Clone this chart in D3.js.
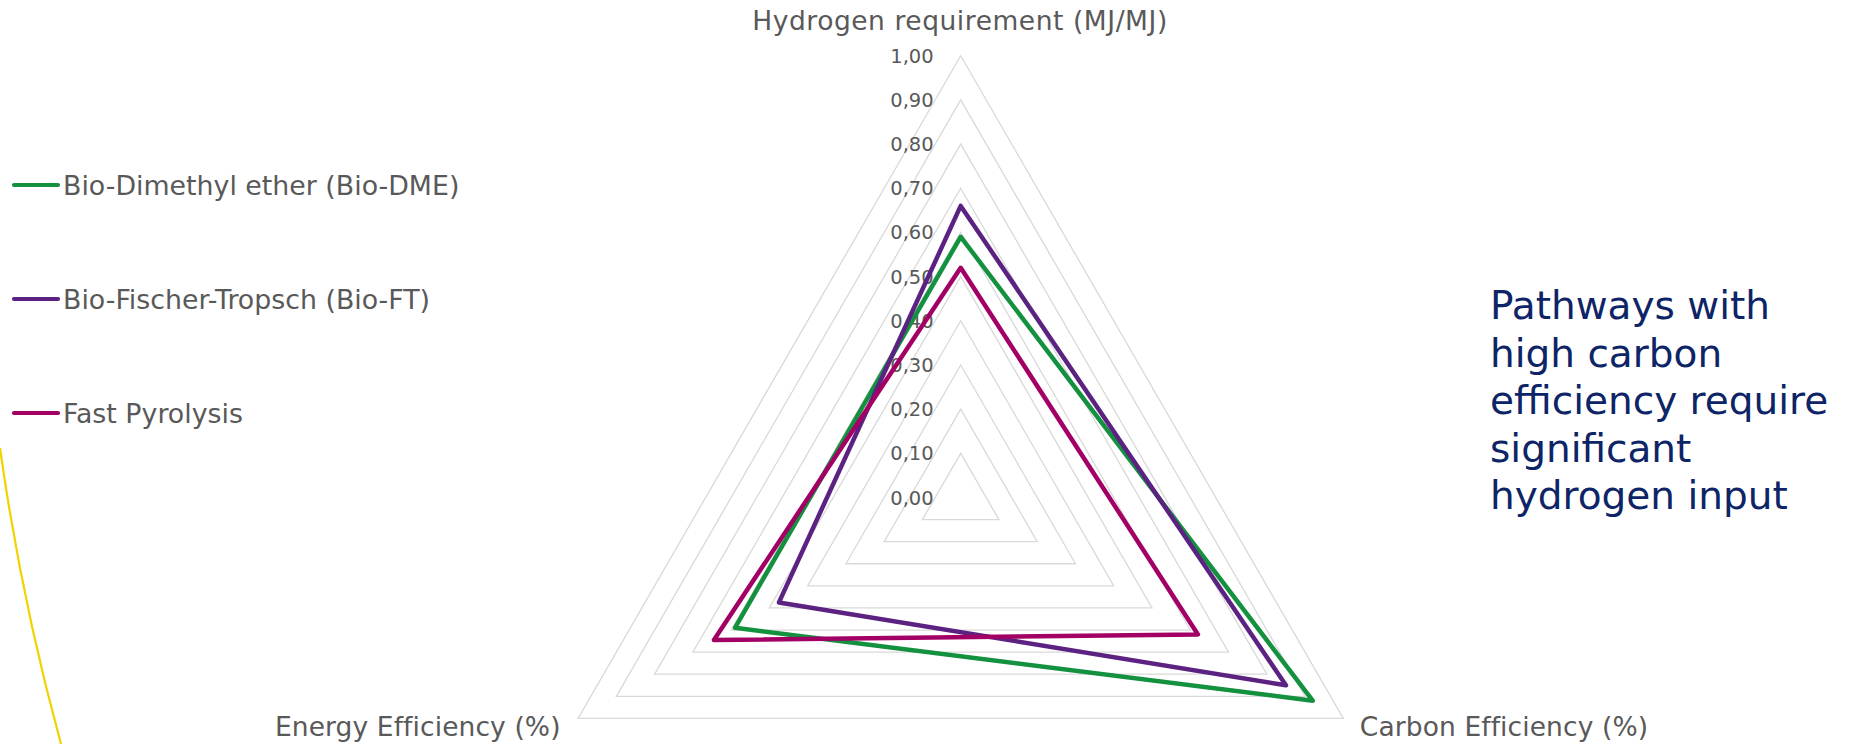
<!DOCTYPE html>
<html>
<head>
<meta charset="utf-8">
<script src="https://cdn.jsdelivr.net/npm/d3@7/dist/d3.min.js"></script>
<style>
  html, body { margin: 0; padding: 0; background: #ffffff; }
  svg { display: block; }
  text { font-family: "DejaVu Sans", Verdana, sans-serif; }
</style>
</head>
<body>
<svg id="chart" width="1854" height="744"></svg>
<script>
// ---- data ----
const categories = ["Hydrogen requirement (MJ/MJ)", "Carbon Efficiency (%)", "Energy Efficiency (%)"];
const seriesNames = ["Bio-Dimethyl ether (Bio-DME)", "Bio-Fischer-Tropsch (Bio-FT)", "Fast Pyrolysis"];
const dmeValues  = [0.59, 0.92, 0.59];
const ftValues   = [0.66, 0.85, 0.475];
const pyroValues = [0.52, 0.62, 0.645];
const tickValues = [0.0, 0.1, 0.2, 0.3, 0.4, 0.5, 0.6, 0.7, 0.8, 0.9, 1.0];
const tickLabels = ["0,00", "0,10", "0,20", "0,30", "0,40", "0,50", "0,60", "0,70", "0,80", "0,90", "1,00"];
const seriesColors = ["#14913F", "#5B2282", "#A30066"];
const noteLines = ["Pathways with", "high carbon", "efficiency require", "significant", "hydrogen input"];

const allSeries = [dmeValues, ftValues, pyroValues];

// ---- layout ----
const svg = d3.select("#chart");
const cx = 960.7, cy = 497.5, R = 441.8;
const r = d3.scaleLinear().domain([0, 1]).range([0, R]);
const angle = d3.scaleLinear().domain([0, categories.length]).range([0, 2 * Math.PI]);

function pt(i, v) {
  const a = angle(i);
  return [cx + r(v) * Math.sin(a), cy - r(v) * Math.cos(a)];
}

// decorative curve (slide background)
svg.append("path")
  .attr("d", "M0,448 Q21,598 61,744")
  .attr("fill", "none")
  .attr("stroke", "#F3D200")
  .attr("stroke-width", 2.2);

// grid rings
const ring = d3.line().curve(d3.curveLinearClosed);
svg.append("g").selectAll("path")
  .data(tickValues.filter(v => v > 0))
  .join("path")
  .attr("d", v => ring(categories.map((c, i) => pt(i, v))))
  .attr("fill", "none")
  .attr("stroke", "#D9D9D9")
  .attr("stroke-width", 1.3);

// tick labels
svg.append("g").selectAll("text")
  .data(tickValues)
  .join("text")
  .attr("x", cx - 27)
  .attr("y", (v) => cy - r(v) + 7)
  .attr("text-anchor", "end")
  .attr("font-size", "19.5px")
  .attr("fill", "#595959")
  .text((v, i) => tickLabels[i]);

// category labels
const catPos = [
  { dx: -0.7, dy: -26.2, anchor: "middle", ls: 0.55 },
  { dx: 16.5, dy: 17.8, anchor: "start", ls: 0.1 },
  { dx: -17.5, dy: 17.8, anchor: "end", ls: 0.1 }
];
svg.append("g").selectAll("text")
  .data(categories)
  .join("text")
  .attr("x", (c, i) => pt(i, 1)[0] + catPos[i].dx)
  .attr("y", (c, i) => pt(i, 1)[1] + catPos[i].dy)
  .attr("text-anchor", (c, i) => catPos[i].anchor)
  .attr("letter-spacing", (c, i) => catPos[i].ls + "px")
  .attr("font-size", "26.5px")
  .attr("fill", "#595959")
  .text(c => c);

// series
svg.append("g").selectAll("path")
  .data(allSeries)
  .join("path")
  .attr("d", vals => ring(vals.map((v, i) => pt(i, v))))
  .attr("fill", "none")
  .attr("stroke", (d, i) => seriesColors[i])
  .attr("stroke-width", 4.5)
  .attr("stroke-linejoin", "round");

// legend
const legendY = d3.scaleLinear().domain([0, 1]).range([185, 299]);
const leg = svg.append("g").selectAll("g")
  .data(seriesNames)
  .join("g")
  .attr("transform", (d, i) => `translate(0,${legendY(i)})`);
leg.append("line")
  .attr("x1", 14).attr("x2", 58).attr("y1", 0).attr("y2", 0)
  .attr("stroke", (d, i) => seriesColors[i])
  .attr("stroke-width", 4.2)
  .attr("stroke-linecap", "round");
leg.append("text")
  .attr("x", 63).attr("y", 9.7)
  .attr("font-size", "26.8px")
  .attr("fill", "#595959")
  .text(d => d);

// annotation
svg.append("text")
  .attr("x", 1490).attr("y", 319.3)
  .attr("font-size", "39px")
  .attr("fill", "#0D2466")
  .selectAll("tspan")
  .data(noteLines)
  .join("tspan")
  .attr("x", 1490)
  .attr("dy", (d, i) => i === 0 ? 0 : 47.5)
  .text(d => d);
</script>
</body>
</html>
